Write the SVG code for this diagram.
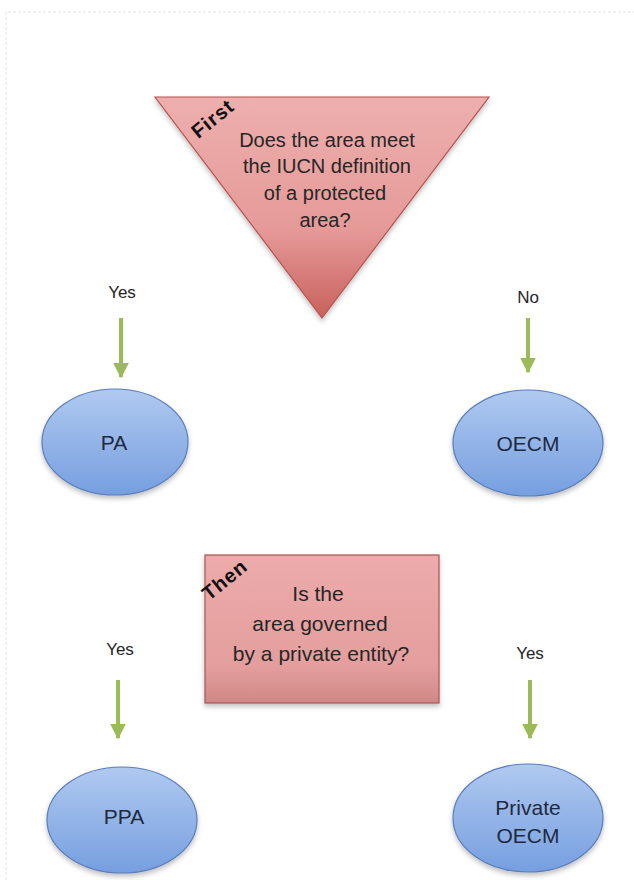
<svg xmlns="http://www.w3.org/2000/svg" width="634" height="880" viewBox="0 0 634 880">
<defs>
<linearGradient id="gTri" x1="0" y1="0" x2="0" y2="1">
<stop offset="0" stop-color="#EDAFAE"/>
<stop offset="0.6" stop-color="#E59A98"/>
<stop offset="1" stop-color="#C9605C"/>
</linearGradient>
<linearGradient id="gRect" x1="0" y1="0" x2="0" y2="1">
<stop offset="0" stop-color="#EDABAB"/>
<stop offset="0.75" stop-color="#E39E9D"/>
<stop offset="1" stop-color="#D08886"/>
</linearGradient>
<linearGradient id="gEll" x1="0" y1="0" x2="0" y2="1">
<stop offset="0" stop-color="#B0C9F0"/>
<stop offset="1" stop-color="#769FE0"/>
</linearGradient>
<filter id="sh" x="-20%" y="-20%" width="140%" height="150%">
<feDropShadow dx="0" dy="3" stdDeviation="2.5" flood-color="#000" flood-opacity="0.25"/>
</filter>
<marker id="ah" viewBox="0 0 10 10" refX="9" refY="5" markerWidth="4" markerHeight="4" orient="auto" markerUnits="strokeWidth">
<path d="M0,0 L10,5 L0,10 Z" fill="#9BBB59"/>
</marker>
<style>
.q{font-family:"Liberation Sans",Arial,sans-serif;font-size:20px;fill:#262626;text-anchor:middle}
.r{font-family:"Liberation Sans",Arial,sans-serif;font-size:21px;fill:#262626;text-anchor:middle}
.tag{font-family:"Liberation Sans",Arial,sans-serif;font-size:20px;font-weight:bold;fill:#111;text-anchor:middle}
.lbl{font-family:"Liberation Sans",Arial,sans-serif;font-size:17px;fill:#262626;text-anchor:middle}
.nt{font-family:"Liberation Sans",Arial,sans-serif;font-size:21px;fill:#1F2A3F;text-anchor:middle}
.ell{fill:url(#gEll);stroke:#5A7DBA;stroke-width:1.2;filter:url(#sh)}
.arr{stroke:#9BBB59;stroke-width:4;fill:none;marker-end:url(#ah)}
</style>
</defs>
<rect width="634" height="880" fill="#fff"/>
<path d="M6,880 V12 H634" fill="none" stroke="#e2e2e2" stroke-width="1" stroke-dasharray="3,2"/>

<g id="q1">
<polygon points="155,97 489,97 322,318" fill="url(#gTri)" stroke="#B8524F" stroke-width="1.2" filter="url(#sh)"/>
<text class="tag" transform="translate(217,124) rotate(-39)" letter-spacing="1">First</text>
<text class="q" x="327" y="147">Does the area meet</text>
<text class="q" x="327" y="173">the IUCN definition</text>
<text class="q" x="325" y="200">of a protected</text>
<text class="q" x="325" y="227">area?</text>
</g>

<g id="q2">
<rect x="205" y="555" width="234" height="148" fill="url(#gRect)" stroke="#A85452" stroke-width="1.2" filter="url(#sh)"/>
<text class="tag" transform="translate(229,585) rotate(-39)" letter-spacing="1">Then</text>
<text class="r" x="318" y="601">Is the</text>
<text class="r" x="320" y="631">area governed</text>
<text class="r" x="321" y="661">by a private entity?</text>
</g>

<g id="pa">
<ellipse class="ell" cx="115" cy="442" rx="73" ry="53"/>
<text class="nt" x="114" y="450">PA</text>
</g>
<g id="oecm">
<ellipse class="ell" cx="528" cy="443" rx="75" ry="53"/>
<text class="nt" x="528" y="451">OECM</text>
</g>
<g id="ppa">
<ellipse class="ell" cx="122" cy="820" rx="75" ry="53"/>
<text class="nt" x="124" y="824">PPA</text>
</g>
<g id="poecm">
<ellipse class="ell" cx="528" cy="818" rx="75" ry="54"/>
<text class="nt" x="528" y="815">Private</text>
<text class="nt" x="528" y="843">OECM</text>
</g>

<g id="connectors">
<text class="lbl" x="122" y="298">Yes</text>
<line class="arr" x1="121" y1="318" x2="121" y2="377"/>
<text class="lbl" x="528" y="303">No</text>
<line class="arr" x1="528" y1="318" x2="528" y2="372"/>
<text class="lbl" x="120" y="655">Yes</text>
<line class="arr" x1="118" y1="680" x2="118" y2="738"/>
<text class="lbl" x="530" y="659">Yes</text>
<line class="arr" x1="530" y1="680" x2="530" y2="738"/>
</g>
</svg>
